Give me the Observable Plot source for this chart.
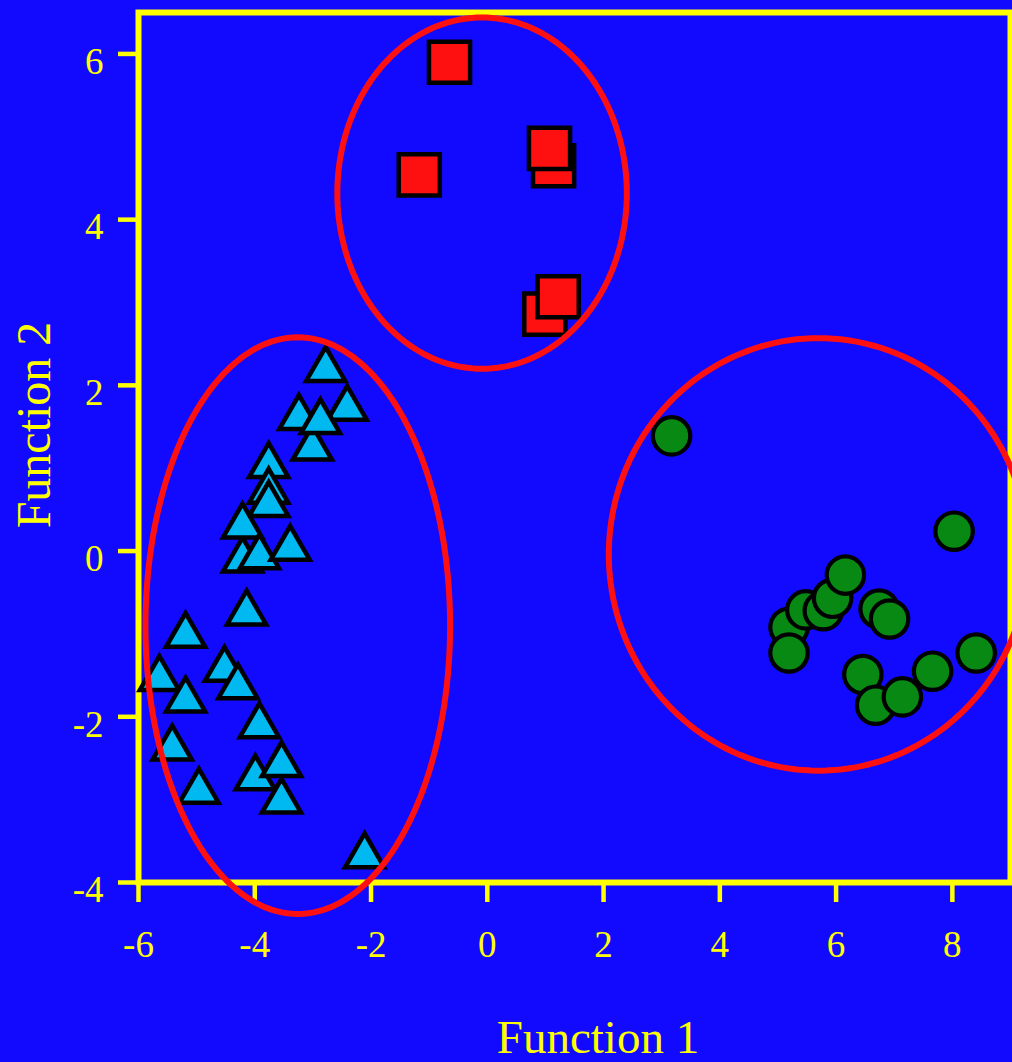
<!DOCTYPE html>
<html>
<head>
<meta charset="utf-8">
<script src="https://cdn.jsdelivr.net/npm/d3@7"></script>
<script src="https://cdn.jsdelivr.net/npm/@observablehq/plot@0.6"></script>
<style>
  html, body { margin: 0; padding: 0; background: #1209ff; }
  #chart { width: 1012px; height: 1062px; }
</style>
</head>
<body>
<div id="chart"></div>
<script>
// Discriminant scores: Function 1 (x) and Function 2 (y) for three groups
const triangleF1 = [-2.78, -2.41, -3.24, -3.01, -2.87, -3.76, -3.76, -3.76, -4.21, -4.21, -3.92, -3.39,
                    -4.14, -5.19, -4.52, -4.29, -5.64, -5.19, -3.92, -5.42, -3.99, -3.54, -3.54, -4.96, -2.11];
const triangleF2 = [2.19, 1.72, 1.61, 1.24, 1.56, 1.03, 0.72, 0.56, -0.11, 0.30, -0.07, 0.03,
                    -0.75, -1.02, -1.43, -1.64, -1.54, -1.80, -2.11, -2.38, -2.74, -2.58, -3.02, -2.90, -3.68];

const squareF1 = [-0.65, -1.17, 1.14, 1.07, 0.99, 1.22];
const squareF2 = [5.90, 4.54, 4.65, 4.86, 2.86, 3.07];

const circleF1 = [3.17, 8.03, 5.19, 5.19, 5.48, 5.78, 5.94, 6.16, 6.74, 6.92, 6.46, 6.68, 7.14, 7.66, 8.41];
const circleF2 = [1.39, 0.24, -0.92, -1.23, -0.71, -0.72, -0.57, -0.29, -0.70, -0.82, -1.49, -1.86, -1.76, -1.45, -1.23];

// Group ellipses: centre and semi-axes in score units
const ellipseCx = [-0.09, -3.26, 5.70];
const ellipseCy = [4.32, -0.90, -0.04];
const ellipseRx = [2.49, 2.62, 3.61];
const ellipseRy = [2.12, 3.48, 2.61];

const xTicks = [-6, -4, -2, 0, 2, 4, 6, 8];
const yTicks = [-4, -2, 0, 2, 4, 6];

const blue = "#1209ff";
const yellow = "#ffff00";
const red = "#ff1010";
const cyan = "#00b9f1";
const green = "#078914";
const font = "'Liberation Serif', 'Times New Roman', serif";

const triangles = triangleF1.map((f1, i) => ({f1, f2: triangleF2[i]}));
const squares = squareF1.map((f1, i) => ({f1, f2: squareF2[i]}));
const circles = circleF1.map((f1, i) => ({f1, f2: circleF2[i]}));

// Outline of each ellipse, traced in data space
const ellipsePoints = ellipseCx.flatMap((cx, k) =>
  d3.range(0, 361, 2).map(a => {
    const t = a * Math.PI / 180;
    return {group: k, f1: cx + ellipseRx[k] * Math.cos(t), f2: ellipseCy[k] + ellipseRy[k] * Math.sin(t)};
  })
);

const chart = Plot.plot({
  width: 1012,
  height: 1062,
  marginLeft: 138,
  marginRight: 2,
  marginTop: 12,
  marginBottom: 180,
  style: {background: blue, fontFamily: font, overflow: "visible"},
  x: {domain: [-6, 9]},
  y: {domain: [-4, 6.5]},
  marks: [
    Plot.frame({stroke: yellow, strokeWidth: 6}),
    Plot.axisX(xTicks, {tickSize: 20, tickFormat: () => "", stroke: yellow, strokeWidth: 4.5, label: null}),
    Plot.axisY(yTicks, {tickSize: 20, tickFormat: () => "", stroke: yellow, strokeWidth: 4.5, label: null}),
    Plot.text(xTicks, {x: d => d, text: d => String(d), frameAnchor: "bottom", lineAnchor: "bottom",
      dy: 74, fill: yellow, fontSize: 37}),
    Plot.text(yTicks, {y: d => d, text: d => String(d), frameAnchor: "left", textAnchor: "end",
      dx: -35, dy: 8, fill: yellow, fontSize: 37}),
    Plot.text(["Function 1"], {text: d => d, frameAnchor: "bottom", lineAnchor: "bottom", textAnchor: "middle",
      dx: 23.5, dy: 170, fill: yellow, fontSize: 47}),
    Plot.text(["Function 2"], {text: d => d, frameAnchor: "left", lineAnchor: "bottom", textAnchor: "middle",
      rotate: -90, dx: -89, dy: -22.5, fill: yellow, fontSize: 48}),
    Plot.dot(triangles, {x: "f1", y: "f2", symbol: "triangle", r: 14.5, fill: cyan, stroke: "black", strokeWidth: 4.5}),
    Plot.dot(squares, {x: "f1", y: "f2", symbol: "square", r: 23.2, fill: red, stroke: "black", strokeWidth: 4.5}),
    Plot.dot(circles, {x: "f1", y: "f2", symbol: "circle", r: 18.7, fill: green, stroke: "black", strokeWidth: 4.2}),
    Plot.line(ellipsePoints, {x: "f1", y: "f2", z: "group", stroke: red, strokeWidth: 6})
  ]
});

document.getElementById("chart").appendChild(chart);
</script>
</body>
</html>
